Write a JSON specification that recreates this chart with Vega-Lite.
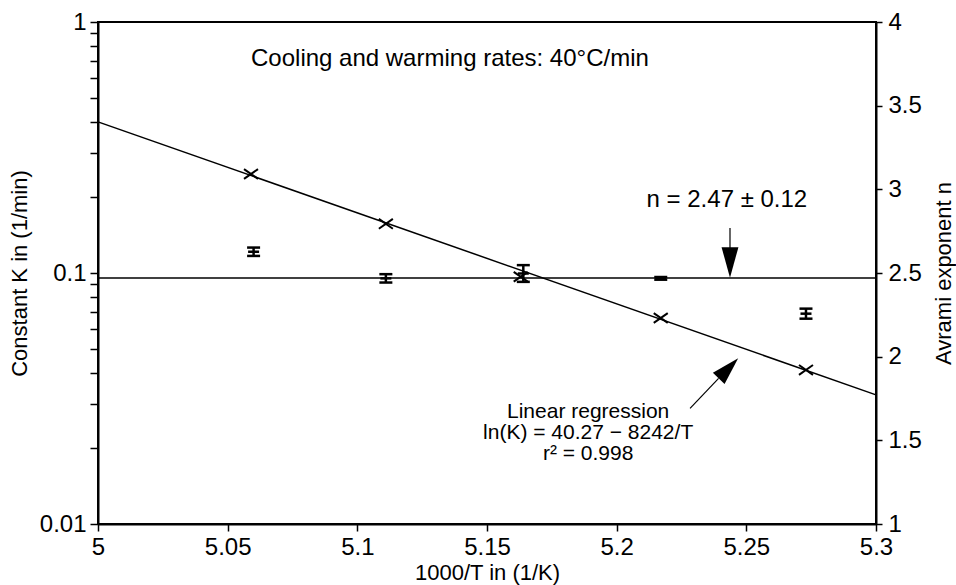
{
  "$schema": "https://vega.github.io/schema/vega-lite/v6.json",
  "width": 778,
  "height": 502,
  "autosize": {"type": "none"},
  "padding": {"left": 98, "top": 22, "right": 80, "bottom": 61},
  "background": "white",
  "datasets": {
    "regline": [{"x": 5.0, "k": 0.40}, {"x": 5.3, "k": 0.0327}],
    "kpoints": [
      {"x": 5.059, "k": 0.248},
      {"x": 5.111, "k": 0.157},
      {"x": 5.163, "k": 0.0966},
      {"x": 5.217, "k": 0.0662},
      {"x": 5.273, "k": 0.0411}
    ],
    "nline": [{"x": 5.0, "n": 2.47}, {"x": 5.3, "n": 2.47}],
    "nbars": [
      {"x": 5.06, "n": 2.627, "lo": 2.602, "hi": 2.652},
      {"x": 5.111, "n": 2.468, "lo": 2.443, "hi": 2.493},
      {"x": 5.164, "n": 2.497, "lo": 2.447, "hi": 2.547},
      {"x": 5.217, "n": 2.468, "lo": 2.46, "hi": 2.476},
      {"x": 5.273, "n": 2.257, "lo": 2.227, "hi": 2.287}
    ],
    "arrowlines": [
      {"x": 5.2437, "n": 2.769, "x2": 5.2437, "n2": 2.6375},
      {"x": 5.2283, "n": 1.6914, "x2": 5.2393, "n2": 1.8707}
    ],
    "headdown": [{"x": 5.2437, "n": 2.5628}],
    "headreg": [{"x": 5.2431, "n": 1.9305}],
    "labels": [
      {"x": 5.1357, "n": 3.779, "label": "Cooling and warming rates: 40°C/min"},
      {"x": 5.2425, "n": 2.936, "label": "n = 2.47 ± 0.12"}
    ],
    "reglabel": [
      {"x": 5.189, "n": 1.669, "label": ["Linear regression", "ln(K) = 40.27 − 8242/T", "r² = 0.998"]}
    ]
  },
  "layer": [
    {
      "layer": [
        {
          "data": {"name": "regline"},
          "mark": {"type": "line", "color": "black", "strokeWidth": 1.5},
          "encoding": {
            "x": {
              "field": "x", "type": "quantitative",
              "scale": {"domain": [5, 5.3], "nice": false, "zero": false},
              "title": "1000/T in (1/K)",
              "axis": {"values": [5, 5.05, 5.1, 5.15, 5.2, 5.25, 5.3], "format": ".2~f", "tickSize": 7, "labelPadding": 4, "titlePadding": 3, "labelFontSize": 24}
            },
            "y": {
              "field": "k", "type": "quantitative",
              "scale": {"type": "log", "domain": [0.01, 1], "nice": false},
              "title": "Constant K in (1/min)",
              "axis": {
                "orient": "left",
                "values": [0.01, 0.02, 0.03, 0.04, 0.05, 0.06, 0.07, 0.08, 0.09, 0.1, 0.2, 0.3, 0.4, 0.5, 0.6, 0.7, 0.8, 0.9, 1],
                "labelExpr": "datum.value == 0.01 ? '0.01' : (datum.value == 0.1 ? '0.1' : (datum.value == 1 ? '1' : ''))",
                "tickSize": 8, "labelPadding": 4, "titlePadding": 8, "labelFontSize": 24
              }
            }
          }
        },
        {
          "data": {"name": "kpoints"},
          "mark": {"type": "point", "shape": "M-1,-0.7L1,0.7M-1,0.7L1,-0.7", "size": 196, "filled": false, "stroke": "black", "strokeWidth": 2, "opacity": 1},
          "encoding": {
            "x": {"field": "x", "type": "quantitative", "title": "1000/T in (1/K)"},
            "y": {"field": "k", "type": "quantitative", "title": "Constant K in (1/min)"}
          }
        }
      ]
    },
    {
      "layer": [
        {
          "data": {"name": "nline"},
          "mark": {"type": "line", "color": "black", "strokeWidth": 1.5},
          "encoding": {
            "x": {"field": "x", "type": "quantitative", "title": "1000/T in (1/K)"},
            "y": {
              "field": "n", "type": "quantitative",
              "scale": {"domain": [1, 4], "nice": false, "zero": false},
              "title": "Avrami exponent n",
              "axis": {"orient": "right", "values": [1, 1.5, 2, 2.5, 3, 3.5, 4], "format": "~g", "tickSize": 6, "labelPadding": 6, "titleAngle": 270, "titleBaseline": "top", "titlePadding": 12, "labelFontSize": 24}
            }
          }
        },
        {
          "data": {"name": "nbars"},
          "mark": {"type": "rule", "color": "black", "strokeWidth": 2.5},
          "encoding": {
            "x": {"field": "x", "type": "quantitative", "title": "1000/T in (1/K)"},
            "y": {"field": "lo", "type": "quantitative", "title": "Avrami exponent n"},
            "y2": {"field": "hi"}
          }
        },
        {
          "data": {"name": "nbars"},
          "mark": {"type": "tick", "orient": "horizontal", "color": "black", "size": 13, "thickness": 2.5, "opacity": 1},
          "encoding": {
            "x": {"field": "x", "type": "quantitative", "title": "1000/T in (1/K)"},
            "y": {"field": "lo", "type": "quantitative", "title": "Avrami exponent n"}
          }
        },
        {
          "data": {"name": "nbars"},
          "mark": {"type": "tick", "orient": "horizontal", "color": "black", "size": 13, "thickness": 2.5, "opacity": 1},
          "encoding": {
            "x": {"field": "x", "type": "quantitative", "title": "1000/T in (1/K)"},
            "y": {"field": "hi", "type": "quantitative", "title": "Avrami exponent n"}
          }
        },
        {
          "data": {"name": "nbars"},
          "mark": {"type": "tick", "orient": "horizontal", "color": "black", "size": 11, "thickness": 2.5, "opacity": 1},
          "encoding": {
            "x": {"field": "x", "type": "quantitative", "title": "1000/T in (1/K)"},
            "y": {"field": "n", "type": "quantitative", "title": "Avrami exponent n"}
          }
        },
        {
          "data": {"name": "arrowlines"},
          "mark": {"type": "rule", "color": "black", "strokeWidth": 1.2},
          "encoding": {
            "x": {"field": "x", "type": "quantitative", "title": "1000/T in (1/K)"},
            "x2": {"field": "x2"},
            "y": {"field": "n", "type": "quantitative", "title": "Avrami exponent n"},
            "y2": {"field": "n2"}
          }
        },
        {
          "data": {"name": "headdown"},
          "mark": {"type": "point", "shape": "M-0.55,-1L0.55,-1L0,1Z", "size": 940, "filled": true, "color": "black", "opacity": 1},
          "encoding": {
            "x": {"field": "x", "type": "quantitative", "title": "1000/T in (1/K)"},
            "y": {"field": "n", "type": "quantitative", "title": "Avrami exponent n"}
          }
        },
        {
          "data": {"name": "headreg"},
          "mark": {"type": "point", "shape": "M-0.58,1L0.58,1L0,-1Z", "size": 784, "angle": 44, "filled": true, "color": "black", "opacity": 1},
          "encoding": {
            "x": {"field": "x", "type": "quantitative", "title": "1000/T in (1/K)"},
            "y": {"field": "n", "type": "quantitative", "title": "Avrami exponent n"}
          }
        },
        {
          "data": {"name": "labels"},
          "mark": {"type": "text", "fontSize": 24, "align": "center", "baseline": "middle", "color": "black", "font": "Liberation Sans"},
          "encoding": {
            "x": {"field": "x", "type": "quantitative", "title": "1000/T in (1/K)"},
            "y": {"field": "n", "type": "quantitative", "title": "Avrami exponent n"},
            "text": {"field": "label"}
          }
        },
        {
          "data": {"name": "reglabel"},
          "mark": {"type": "text", "fontSize": 21, "lineHeight": 21, "align": "center", "baseline": "middle", "color": "black", "font": "Liberation Sans"},
          "encoding": {
            "x": {"field": "x", "type": "quantitative", "title": "1000/T in (1/K)"},
            "y": {"field": "n", "type": "quantitative", "title": "Avrami exponent n"},
            "text": {"field": "label"}
          }
        }
      ]
    }
  ],
  "resolve": {"scale": {"y": "independent"}, "axis": {"y": "independent"}},
  "config": {
    "font": "Liberation Sans",
    "view": {"stroke": "black", "strokeWidth": 2},
    "axis": {
      "grid": false,
      "domainColor": "black",
      "domainWidth": 2,
      "tickColor": "black",
      "tickWidth": 1.5,
      "labelColor": "black",
      "titleColor": "black",
      "labelFont": "Liberation Sans",
      "titleFont": "Liberation Sans",
      "labelFontSize": 24,
      "titleFontSize": 22,
      "titleFontWeight": "normal",
      "labelFlush": false,
      "labelOverlap": false,
      "labelBound": false
    }
  }
}
